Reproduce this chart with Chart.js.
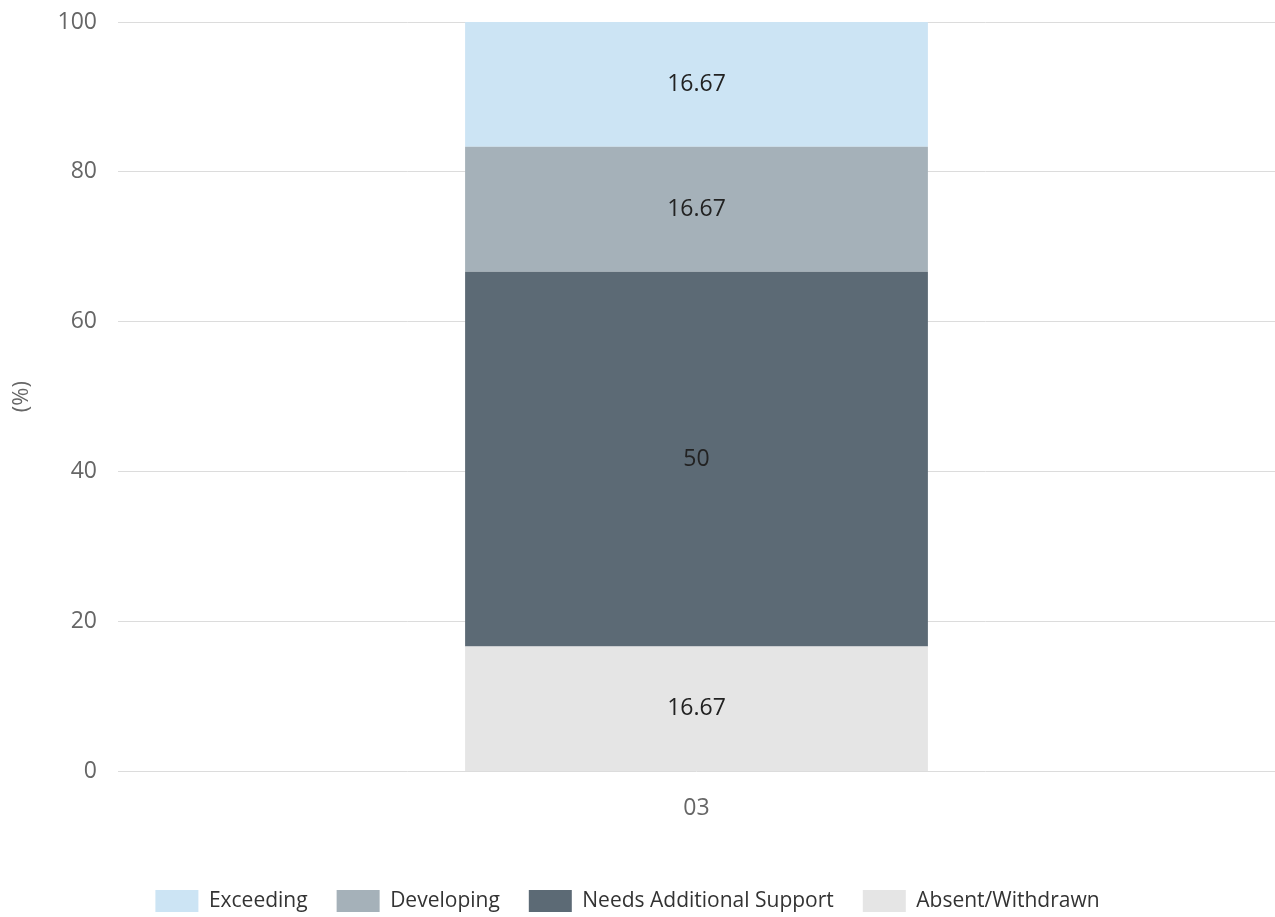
<!DOCTYPE html>
<html>
<head>
<meta charset="utf-8">
<script src="https://cdn.jsdelivr.net/npm/chart.js@4/dist/chart.umd.min.js"></script>
<style>
html,body{margin:0;padding:0;background:#fff;}
#wrap{width:1275px;height:917px;position:relative;}
</style>
</head>
<body>
<div id="wrap"><canvas id="c" width="1275" height="917"></canvas></div>
<script>
const categories = ["03"];
const seriesNames = ["Absent/Withdrawn", "Needs Additional Support", "Developing", "Exceeding"];
const absentWithdrawn = [16.67];
const needsAdditionalSupport = [50];
const developing = [16.67];
const exceeding = [16.67];
const yTicks = [0, 20, 40, 60, 80, 100];
const colors = ["#e5e5e5", "#5c6a75", "#a5b1b9", "#cce4f4"];

const seriesValues = [absentWithdrawn, needsAdditionalSupport, developing, exceeding];
const FONT = '"Open Sans", "Noto Sans", sans-serif';

const labelPlugin = {
  id: 'segLabels',
  afterLayout(chart) {
    if (chart.legend) { chart.legend.left -= 10; chart.legend.right -= 10; }
  },
  afterDatasetsDraw(chart) {
    const ctx = chart.ctx;
    ctx.save();
    ctx.font = '23px ' + FONT;
    ctx.fillStyle = '#222';
    ctx.textAlign = 'center';
    ctx.textBaseline = 'middle';
    chart.data.datasets.forEach((ds, i) => {
      const meta = chart.getDatasetMeta(i);
      meta.data.forEach((el, j) => {
        const v = ds.data[j];
        if (v == null) return;
        ctx.fillText(String(v), el.x, (el.y + el.base) / 2);
      });
    });
    ctx.restore();
  }
};

new Chart(document.getElementById('c'), {
  type: 'bar',
  data: {
    labels: categories,
    datasets: seriesNames.map((n, i) => ({
      label: n,
      data: seriesValues[i],
      backgroundColor: colors[i],
      borderWidth: 0,
      categoryPercentage: 1,
      barPercentage: 0.4
    }))
  },
  options: {
    responsive: false,
    animation: false,
    layout: { padding: { top: 0, right: 0, left: 0, bottom: -5 } },
    plugins: {
      legend: {
        position: 'bottom',
        reverse: true,
        labels: {
          boxWidth: 43, boxHeight: 22, padding: 29,
          color: '#333',
          font: { family: FONT, size: 21 }
        }
      },
      tooltip: { enabled: false }
    },
    scales: {
      x: {
        stacked: true,
        grid: { display: false, drawTicks: false },
        border: { display: false },
        ticks: { color: '#666', padding: 23, font: { family: FONT, size: 23 } },
        afterFit(scale) { scale.height += 16; }
      },
      y: {
        stacked: true,
        min: 0, max: 100,
        afterBuildTicks(scale) { scale.ticks = yTicks.map(v => ({ value: v })); },
        afterFit(scale) { scale.width = 118; scale.paddingTop = 22; scale.paddingBottom = 0; },
        grid: { color: '#dcdcdc', drawTicks: false, lineWidth: 1 },
        border: { display: false },
        ticks: { color: '#666', padding: 21, font: { family: FONT, size: 23 } },
        title: { display: true, text: '(%)', color: '#666', font: { family: FONT, size: 22 }, padding: { top: 9, bottom: 0 } }
      }
    }
  },
  plugins: [labelPlugin]
});
</script>
</body>
</html>
